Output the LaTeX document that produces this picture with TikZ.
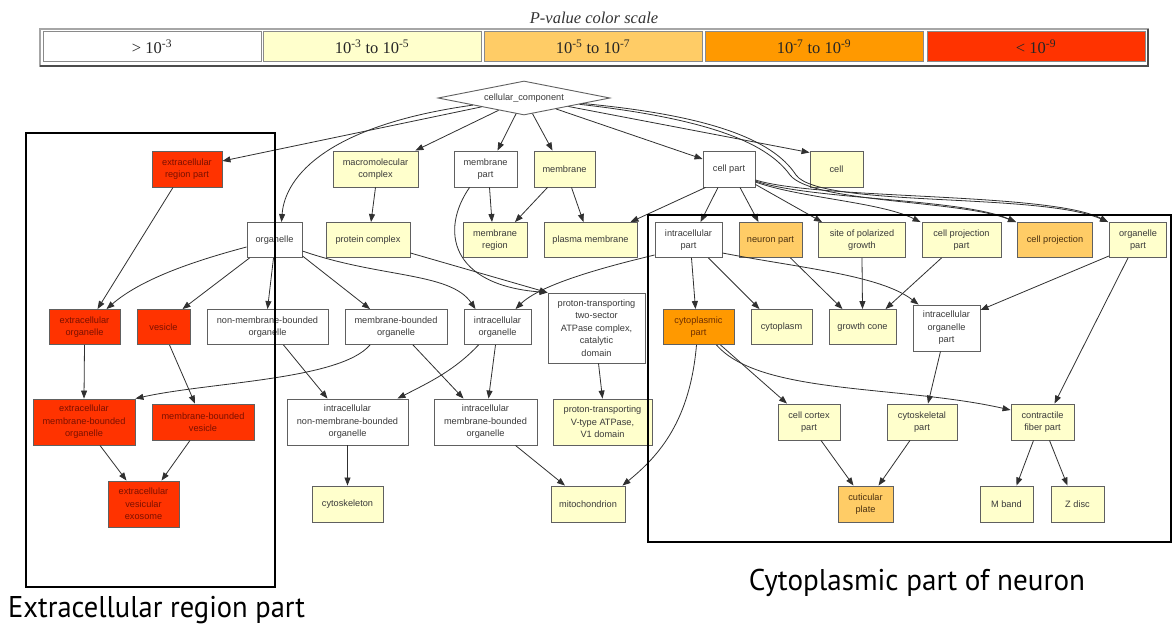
\documentclass[tikz,border=0pt]{standalone}
\usepackage{fontspec}
\usepackage{graphicx}
\setmainfont{Liberation Serif}
\newfontfamily\gofont{Liberation Sans}
\newfontfamily\capfont{PT Sans}
\usetikzlibrary{shapes.geometric,arrows.meta,calc}

\definecolor{pyellow}{HTML}{FFFFCC}
\definecolor{plorange}{HTML}{FFCC66}
\definecolor{porange}{HTML}{FF9900}
\definecolor{pred}{HTML}{FF3300}
\definecolor{boxline}{HTML}{606060}
\definecolor{edgecol}{HTML}{303030}
\definecolor{txtgray}{HTML}{3A3A3A}
\definecolor{txtred}{HTML}{7A1000}
\definecolor{txtorange}{HTML}{6E2E00}
\definecolor{txtbrown}{HTML}{4A3010}
\definecolor{leggray}{HTML}{8A8A8A}

\tikzset{
  gobox/.style={draw=boxline, line width=0.9pt, inner sep=0pt, align=center,
    font=\gofont\fontsize{9.2}{12.5}\selectfont, text=txtgray},
  wbox/.style={gobox, fill=white},
  ybox/.style={gobox, fill=pyellow},
  lobox/.style={gobox, fill=plorange, text=txtbrown},
  obox/.style={gobox, fill=porange, text=txtorange},
  rbox/.style={gobox, fill=pred, text=txtred},
  sz/.style 2 args={minimum width=#1pt, minimum height=#2pt},
  goarrow/.style={draw=edgecol, line width=0.8pt, -{Triangle[length=8pt,width=6pt]}},
  region/.style={draw=black, line width=2.2pt},
  legcell/.style={draw=leggray, line width=1pt, inner sep=0pt,
    minimum width=218pt, minimum height=30pt,
    font=\fontsize{16.5}{18}\selectfont, text=black!85},
  captext/.style={font=\capfont\fontsize{30}{34}\selectfont, inner sep=0pt},
}

\begin{document}
\begin{tikzpicture}[x=1pt, y=-1pt]
\useasboundingbox (0,0) rectangle (1173,626);
\fill[white] (0,0) rectangle (1173,626);

% ---------- colour scale ----------
\node[font=\itshape\fontsize{16.5}{18}\selectfont, text=black!80] (ttl) at (594,18) {P-value color scale};
\draw[draw=black!35, line width=1.2pt] (40,29) rectangle (1148,66);
\draw[draw=black!70, line width=1.2pt] (40,66) -- (1148,66) -- (1148,29);
\node[legcell, fill=white]    (lg1) at (152,47)  {> 10\textsuperscript{-3}};
\node[legcell, fill=pyellow]  (lg2) at (372,47)  {10\textsuperscript{-3} to 10\textsuperscript{-5}};
\node[legcell, fill=plorange] (lg3) at (593,47)  {10\textsuperscript{-5} to 10\textsuperscript{-7}};
\node[legcell, fill=porange]  (lg4) at (814,47)  {10\textsuperscript{-7} to 10\textsuperscript{-9}};
\node[legcell, fill=pred]     (lg5) at (1036,47) {< 10\textsuperscript{-9}};

% ---------- GO terms ----------
\node[draw=boxline, line width=0.9pt, fill=white, diamond, aspect=5, inner sep=0pt,
      minimum width=172pt, minimum height=34pt, text=txtgray,
      font=\gofont\fontsize{9.2}{12.5}\selectfont] (cc) at (524,98) {cellular\_component};

% rank 1
\node[rbox, sz={70}{36}] (erp)  at (187,169)   {extracellular\\region part};
\node[ybox, sz={85}{36}] (mmc)  at (375.5,169) {macromolecular\\complex};
\node[wbox, sz={63}{36}] (mp)   at (485.5,169) {membrane\\part};
\node[ybox, sz={61}{36}] (mem)  at (564.5,169) {membrane};
\node[wbox, sz={52}{36}] (cp)   at (729,169)   {cell part};
\node[ybox, sz={53}{36}] (cell) at (836.5,169) {cell};

% rank 2
\node[wbox,  sz={55}{35}] (org) at (274.5,240) {organelle};
\node[ybox,  sz={84}{35}] (pc)  at (368,240)   {protein complex};
\node[ybox,  sz={64}{35}] (mr)  at (495,240)   {membrane\\region};
\node[ybox,  sz={93}{35}] (pm)  at (590.5,240) {plasma membrane};
\node[wbox,  sz={67}{35}] (ip)  at (688.5,240) {intracellular\\part};
\node[lobox, sz={63}{35}] (np)  at (770.5,240) {neuron part};
\node[ybox,  sz={87}{35}] (spg) at (862,240)   {site of polarized\\growth};
\node[ybox,  sz={79}{35}] (cpp) at (961.5,240) {cell projection\\part};
\node[lobox, sz={75}{35}] (cpr) at (1055,240)  {cell projection};
\node[ybox,  sz={57}{35}] (op)  at (1138,240)  {organelle\\part};

% rank 3
\node[rbox, sz={71}{35}]  (eo)   at (84.5,327)  {extracellular\\organelle};
\node[rbox, sz={53}{35}]  (ves)  at (163.5,327) {vesicle};
\node[wbox, sz={121}{35}] (nmbo) at (267.5,327) {non-membrane-bounded\\organelle};
\node[wbox, sz={102}{35}] (mbo)  at (396,327)   {membrane-bounded\\organelle};
\node[wbox, sz={67}{35}]  (io)   at (497.5,327) {intracellular\\organelle};
\node[wbox, sz={97}{70}]  (ptt)  at (596.5,328) {proton-transporting\\two-sector\\ATPase complex,\\catalytic\\domain};
\node[obox, sz={71}{35}]  (cyp)  at (698.5,327) {cytoplasmic\\part};
\node[ybox, sz={61}{35}]  (cyt)  at (781.5,327) {cytoplasm};
\node[ybox, sz={67}{35}]  (gc)   at (862.5,327) {growth cone};
\node[wbox, sz={67}{46}]  (iop)  at (946.5,328) {intracellular\\organelle\\part};

% rank 4
\node[rbox, sz={102}{46}] (embo)  at (84,422)    {extracellular\\membrane-bounded\\organelle};
\node[rbox, sz={102}{36}] (mbv)   at (203,422)   {membrane-bounded\\vesicle};
\node[wbox, sz={121}{46}] (inmbo) at (347.5,422) {intracellular\\non-membrane-bounded\\organelle};
\node[wbox, sz={103}{46}] (imbo)  at (485.5,422) {intracellular\\membrane-bounded\\organelle};
\node[ybox, sz={99}{46}]  (v1)    at (602.5,422) {proton-transporting\\V-type ATPase,\\V1 domain};
\node[ybox, sz={62}{36}]  (ccp)   at (809,422)   {cell cortex\\part};
\node[ybox, sz={70}{36}]  (csp)   at (922,422)   {cytoskeletal\\part};
\node[ybox, sz={63}{36}]  (cfp)   at (1042.5,422) {contractile\\fiber part};

% rank 5
\node[rbox,  sz={71}{46}] (exo)  at (143.5,504)  {extracellular\\vesicular\\exosome};
\node[ybox,  sz={71}{36}] (csk)  at (347.5,504)  {cytoskeleton};
\node[ybox,  sz={74}{36}] (mito) at (588,504)    {mitochondrion};
\node[lobox, sz={55}{36}] (cup)  at (865.5,504)  {cuticular\\plate};
\node[ybox,  sz={53}{36}] (mb)   at (1006.5,504) {M band};
\node[ybox,  sz={53}{36}] (zd)   at (1077.5,504) {Z disc};

% ---------- relations ----------
% from the root
\draw[goarrow] (cc) -- ($(erp.east)+(0,-8)$);
\draw[goarrow] (cc) .. controls (330,125) and (285,175) .. ($(org.north)+(7,0)$);
\draw[goarrow] (cc) -- ($(mmc.north east)+(-3,0)$);
\draw[goarrow] (cc) -- ($(mp.north)+(12,0)$);
\draw[goarrow] (cc) -- ($(mem.north)+(-12,0)$);
\draw[goarrow] (cc) -- ($(cp.west)+(0,-10)$);
\draw[goarrow] (cc) -- ($(cell.north west)+(0,2)$);
\draw[goarrow] (cc) .. controls (700,118) and (765,140) .. (790,175)
               .. controls (812,203) and (960,200) .. ($(cpr.north west)+(-1,0)$);
\draw[goarrow] (cc) .. controls (705,115) and (772,138) .. (796,175)
               .. controls (820,208) and (1040,192) .. ($(op.north west)+(-1,0)$);

% from cell part
\draw[goarrow] ($(cp.south west)+(3,0)$) -- ($(pm.north east)+(-7,0)$);
\draw[goarrow] ($(cp.south)+(-11,0)$) -- ($(ip.north)+(12,0)$);
\draw[goarrow] ($(cp.south)+(11,0)$) -- ($(np.north)+(-12,0)$);
\draw[goarrow] ($(cp.south east)+(0,-3)$) -- ($(spg.north west)+(4,0)$);
\draw[goarrow] ($(cp.east)+(0,13)$) .. controls (800,198) and (880,202) .. ($(cpp.north west)+(-1,0)$);
\draw[goarrow] ($(cp.east)+(0,12)$) .. controls (810,200) and (960,198) .. ($(cpr.north west)+(-1,0)$);
\draw[goarrow] ($(cp.east)+(0,11)$) .. controls (820,200) and (1050,192) .. ($(op.north west)+(-1,0)$);

% membranes and complexes
\draw[goarrow] (mmc.south) -- ($(pc.north)+(3,0)$);
\draw[goarrow] ($(mp.south)+(4,0)$) -- ($(mr.north)+(-3,0)$);
\draw[goarrow] ($(mem.south)+(-17,0)$) -- ($(mr.north)+(20,0)$);
\draw[goarrow] ($(mem.south)+(7,0)$) -- ($(pm.north)+(-7,0)$);
\draw[goarrow] ($(pc.east)+(0,13)$) -- (ptt.north west);
\draw[goarrow] ($(mp.south west)+(16,0)$) .. controls (440,230) and (450,285) .. (ptt.north west);
\draw[goarrow] ($(ptt.south)+(2,0)$) -- (v1.north);

% extracellular branch
\draw[goarrow] ($(erp.south)+(-14,0)$) -- ($(eo.north)+(13,0)$);
\draw[goarrow] ($(org.west)+(0,7)$) .. controls (190,262) and (140,280) .. ($(eo.north)+(22,0)$);
\draw[goarrow] ($(org.south west)+(3,0)$) -- ($(ves.north)+(19,0)$);
\draw[goarrow] (eo.south) -- (embo.north);
\draw[goarrow] ($(ves.south)+(6,0)$) -- ($(mbv.north)+(-8,0)$);
\draw[goarrow] ($(embo.south)+(16,0)$) -- ($(exo.north)+(-17,0)$);
\draw[goarrow] ($(mbv.south)+(-13,0)$) -- ($(exo.north)+(18,0)$);
\draw[goarrow] ($(mbo.south)+(-26,0)$) .. controls (340,380) and (210,382) .. (embo.north east);

% organelles
\draw[goarrow] ($(org.south)+(-1,0)$) -- (nmbo.north);
\draw[goarrow] ($(org.south east)+(0,-2)$) -- ($(mbo.north)+(-26,0)$);
\draw[goarrow] ($(org.east)+(0,11)$) .. controls (380,278) and (450,272) .. ($(io.north)+(-22,0)$);
\draw[goarrow] ($(ip.west)+(0,15)$) .. controls (600,268) and (540,285) .. ($(io.north)+(18,0)$);
\draw[goarrow] ($(nmbo.south)+(16,0)$) -- ($(inmbo.north)+(-20,0)$);
\draw[goarrow] ($(mbo.south)+(17,0)$) -- ($(imbo.north)+(-22,0)$);
\draw[goarrow] ($(io.south)+(-19,0)$) .. controls (455,370) and (430,382) .. ($(inmbo.north)+(50,0)$);
\draw[goarrow] ($(io.south)+(-2,0)$) -- ($(imbo.north)+(3,0)$);
\draw[goarrow] (inmbo.south) -- (csk.north);
\draw[goarrow] ($(imbo.south)+(30,0)$) -- ($(mito.north)+(-23,0)$);
\draw[goarrow] ($(cyp.south)+(-2,0)$) .. controls (690,420) and (660,455) .. ($(mito.north east)+(-3,0)$);

% intracellular part and neuron side
\draw[goarrow] ($(ip.south)+(3,0)$) -- ($(cyp.north)+(-3,0)$);
\draw[goarrow] ($(ip.south)+(20,0)$) -- ($(cyt.north)+(-22,0)$);
\draw[goarrow] ($(ip.east)+(0,13)$) .. controls (800,268) and (880,275) .. ($(iop.north west)+(6,0)$);
\draw[goarrow] ($(np.south)+(20,0)$) -- ($(gc.north)+(-20,0)$);
\draw[goarrow] (spg.south) -- (gc.north);
\draw[goarrow] ($(cpp.south)+(-20,0)$) -- ($(gc.north)+(23,0)$);
\draw[goarrow] ($(op.south west)+(0,-2)$) -- ($(iop.east)+(0,-18)$);
\draw[goarrow] ($(op.south)+(-10,0)$) -- ($(cfp.north)+(12,0)$);
\draw[goarrow] ($(iop.south)+(-6,0)$) -- ($(csp.north)+(6,0)$);
\draw[goarrow] ($(cyp.south)+(22,0)$) -- ($(ccp.north)+(-22,0)$);
\draw[goarrow] ($(cyp.south)+(18,0)$) .. controls (760,395) and (900,385) .. ($(cfp.west)+(0,-12)$);
\draw[goarrow] ($(ccp.south)+(12,0)$) -- ($(cup.north)+(-12,0)$);
\draw[goarrow] ($(csp.south)+(-12,0)$) -- ($(cup.north)+(13,0)$);
\draw[goarrow] ($(cfp.south)+(-9,0)$) -- ($(mb.north)+(10,0)$);
\draw[goarrow] ($(cfp.south)+(7,0)$) -- ($(zd.north)+(-10,0)$);

% ---------- highlighted regions ----------
\draw[region] (26,133) rectangle (275,587);
\draw[region] (648,215) rectangle (1171,542);
\node[captext, anchor=west] (capL) at (8,610) {\scalebox{0.95}[1]{Extracellular region part}};
\node[captext] (capR) at (917,583) {\scalebox{0.97}[1]{Cytoplasmic part of neuron}};
\end{tikzpicture}
\end{document}
